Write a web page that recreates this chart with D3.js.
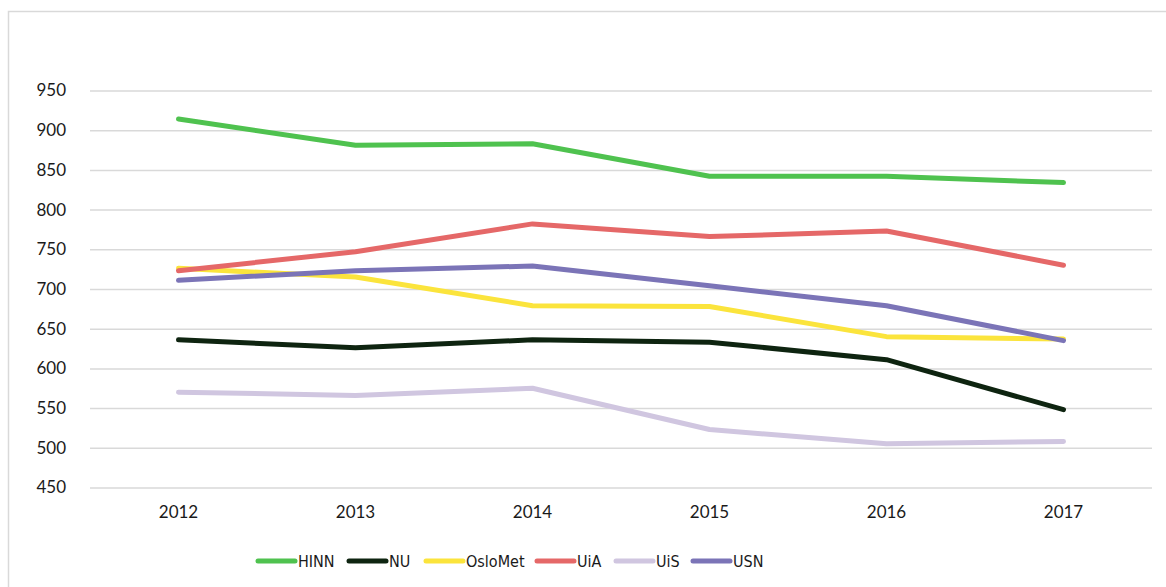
<!DOCTYPE html>
<html>
<head>
<meta charset="utf-8">
<script src="https://cdn.jsdelivr.net/npm/d3@7"></script>
<style>
    html, body { margin: 0; padding: 0; background: #fff; }
</style>
</head>
<body>
<div id="chart"></div>
<script>
// data
const years = ['2012', '2013', '2014', '2015', '2016', '2017'];
const yTicks = [450, 500, 550, 600, 650, 700, 750, 800, 850, 900, 950];

const HINN    = [914, 881, 883, 842, 842, 834];
const NU      = [636, 626, 636, 633, 611, 548];
const OsloMet = [726, 715, 679, 678, 640, 637];
const UiA     = [723, 747, 782, 766, 773, 730];
const UiS     = [570, 566, 575, 523, 505, 508];
const USN     = [711, 723, 729, 704, 679, 635];

const seriesNames = ['HINN', 'NU', 'OsloMet', 'UiA', 'UiS', 'USN'];
const seriesValues = [HINN, NU, OsloMet, UiA, UiS, USN];
const seriesColors = ['#4fc24f', '#0e2410', '#fbe43c', '#e56868', '#d0c6e0', '#7b74b7'];

window.addEventListener('DOMContentLoaded', ()=>{

    const width = 1166,
        height = 587,
        plot = { left: 90, right: 1152, top: 90.5, bottom: 487.5 };

    const svg = d3.select('#chart')
        .append('svg')
        .attr('width', width)
        .attr('height', height);

    // outer frame (runs off the right and bottom edge)
    svg.append('rect')
        .attr('x', 8.5)
        .attr('y', 11.5)
        .attr('width', 1200)
        .attr('height', 700)
        .attr('fill', 'none')
        .attr('stroke', '#d9d9d9')
        .attr('stroke-width', 1.5);

    const x = d3.scaleBand()
        .domain(years)
        .range([plot.left, plot.right]);

    const y = d3.scaleLinear()
        .domain([450, 950])
        .range([plot.bottom, plot.top]);

    // gridlines + y labels
    const yAxis = svg.append('g')
        .attr('transform', `translate(${plot.left},0)`)
        .call(d3.axisLeft(y)
            .tickValues(yTicks)
            .tickSize(-(plot.right - plot.left))
            .tickPadding(24)
            .tickFormat(d3.format('d')));
    yAxis.select('.domain').remove();
    yAxis.selectAll('.tick line')
        .attr('stroke', '#d9d9d9')
        .attr('stroke-width', 1.5);
    yAxis.selectAll('.tick text')
        .style('font-size', '17px')
        .style('font-family', 'Lato, sans-serif')
        .attr('fill', '#1a1a1a');

    // x labels
    const xAxis = svg.append('g')
        .attr('transform', `translate(0,${plot.bottom})`)
        .call(d3.axisBottom(x).tickSize(0).tickPadding(18));
    xAxis.select('.domain').remove();
    xAxis.selectAll('.tick text')
        .style('font-size', '17px')
        .style('font-family', 'Lato, sans-serif')
        .attr('fill', '#1a1a1a');

    const line = d3.line()
        .x((d, i) => x(years[i]) + x.bandwidth() / 2)
        .y(d => y(d));

    svg.append('g')
        .selectAll('path')
        .data(seriesValues)
        .join('path')
        .attr('d', d => line(d))
        .attr('fill', 'none')
        .attr('stroke', (d, i) => seriesColors[i])
        .attr('stroke-width', 5)
        .attr('stroke-linecap', 'round')
        .attr('stroke-linejoin', 'round');

    // legend
    const legendX = [258, 349, 426, 537, 616, 693];
    const legend = svg.append('g')
        .selectAll('g')
        .data(seriesNames)
        .join('g')
        .attr('transform', (d, i) => `translate(${legendX[i]},561)`);
    legend.append('line')
        .attr('x1', 0).attr('x2', 37)
        .attr('stroke', (d, i) => seriesColors[i])
        .attr('stroke-width', 5)
        .attr('stroke-linecap', 'round');
    legend.append('text')
        .attr('x', 40)
        .attr('dy', '0.36em')
        .attr('fill', '#1a1a1a')
        .style('font-size', '16px')
        .style('font-family', '"DejaVu Sans Condensed", Lato, sans-serif')
        .style('font-stretch', 'condensed')
        .text(d => d);

}); //end of doc ready
</script>
</body>
</html>
